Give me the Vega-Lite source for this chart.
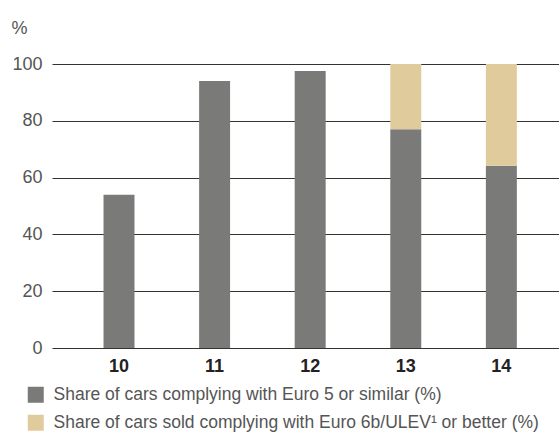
{
  "$schema": "https://vega.github.io/schema/vega-lite/v6.json",
  "autosize": {"type": "none"},
  "width": 507,
  "height": 284,
  "padding": {"left": 52, "top": 64, "right": 0, "bottom": 84},
  "background": "white",
  "config": {
    "view": {"stroke": null},
    "font": "Liberation Sans"
  },
  "data": {
    "values": [
      {"year": "10", "series": "Share of cars complying with Euro 5 or similar (%)", "value": 54},
      {"year": "11", "series": "Share of cars complying with Euro 5 or similar (%)", "value": 94},
      {"year": "12", "series": "Share of cars complying with Euro 5 or similar (%)", "value": 97.5},
      {"year": "13", "series": "Share of cars complying with Euro 5 or similar (%)", "value": 77},
      {"year": "13", "series": "Share of cars sold complying with Euro 6b/ULEV¹ or better (%)", "value": 23},
      {"year": "14", "series": "Share of cars complying with Euro 5 or similar (%)", "value": 64.2},
      {"year": "14", "series": "Share of cars sold complying with Euro 6b/ULEV¹ or better (%)", "value": 35.8}
    ]
  },
  "mark": {"type": "bar"},
  "encoding": {
    "x": {
      "field": "year",
      "type": "nominal",
      "scale": {"paddingInner": 0.676, "paddingOuter": 0.49, "align": 0.55},
      "axis": {
        "title": null,
        "domain": false,
        "ticks": false,
        "labelAngle": 0,
        "labelFontSize": 18,
        "labelFontWeight": "bold",
        "labelColor": "#222222",
        "labelPadding": 9
      }
    },
    "y": {
      "field": "value",
      "type": "quantitative",
      "stack": "zero",
      "scale": {"domain": [0, 100], "nice": false},
      "axis": {
        "values": [0, 20, 40, 60, 80, 100],
        "domain": false,
        "ticks": false,
        "grid": true,
        "gridColor": "#333333",
        "gridWidth": 1,
        "labelFontSize": 18,
        "labelColor": "#555555",
        "labelPadding": 10,
        "title": "%",
        "titleAngle": 0,
        "titleAlign": "left",
        "titleBaseline": "top",
        "titleX": -41,
        "titleY": -45,
        "titleFontSize": 18,
        "titleFontWeight": "normal",
        "titleColor": "#555555"
      }
    },
    "order": {"field": "series", "type": "nominal", "sort": "ascending"},
    "color": {
      "field": "series",
      "type": "nominal",
      "scale": {
        "domain": ["Share of cars complying with Euro 5 or similar (%)", "Share of cars sold complying with Euro 6b/ULEV¹ or better (%)"],
        "range": ["#7a7a78", "#e0cb9c"]
      },
      "legend": {
        "title": null,
        "orient": "none",
        "legendX": -25,
        "legendY": 322,
        "direction": "vertical",
        "symbolType": "square",
        "symbolSize": 256,
        "symbolStrokeWidth": 0,
        "labelFontSize": 17.5,
        "labelColor": "#555555",
        "labelOffset": 9,
        "rowPadding": 9,
        "labelLimit": 600
      }
    }
  }
}
